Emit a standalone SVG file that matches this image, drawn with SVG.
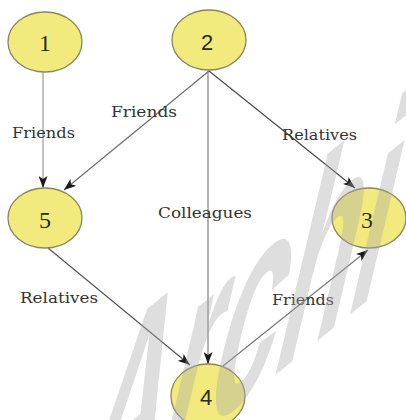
<svg xmlns="http://www.w3.org/2000/svg" width="406" height="420" viewBox="0 0 406 420">
  <defs>
    <marker id="arr" viewBox="0 0 12 9" refX="12" refY="4.5" markerWidth="12" markerHeight="9" markerUnits="userSpaceOnUse" orient="auto">
      <path d="M0,0 L12,4.5 L0,9 L3,4.5 Z" fill="#1a1a1a"/>
    </marker>
  </defs>
  <style>
    .node ellipse { fill: #f2ea7c; stroke: #8a8660; stroke-width: 1.3; }
    .num { font-size: 24px; fill: #2a2a2a; text-anchor: middle; }
    .serif { font-family: "Liberation Serif", "DejaVu Serif", serif; }
    .sans { font-family: "Liberation Sans", Arial, sans-serif; font-size: 22px; }
    .edge { stroke: #6e6e6e; stroke-width: 1.2; fill: none; marker-end: url(#arr); }
    .lbl { font-family: "DejaVu Serif", "Liberation Serif", serif; font-size: 14px; fill: #333; }
    .wm { font-family: "Liberation Sans", Arial, sans-serif; font-weight: bold; font-size: 116px; fill: #a8a8a8; fill-opacity: 0.38; }
  </style>
  <rect width="406" height="420" fill="#ffffff"/>

  <g id="connectors">
    <line class="edge" x1="43" y1="72" x2="43" y2="188" style="stroke:#9a9a9a"/>
    <line class="edge" x1="209" y1="71" x2="64" y2="190"/>
    <line class="edge" x1="209" y1="71" x2="355" y2="188" style="stroke:#4a4a4a"/>
    <line class="edge" x1="208" y1="71" x2="208" y2="364" style="stroke:#808080"/>
    <line class="edge" x1="48" y1="248" x2="190" y2="365" style="stroke:#555"/>
    <line class="edge" x1="223" y1="366" x2="368" y2="250" style="stroke:#777"/>
  </g>

  <g id="edge-labels">
    <text class="lbl" x="12" y="138" textLength="63" lengthAdjust="spacingAndGlyphs">Friends</text>
    <text class="lbl" x="111" y="117" textLength="66" lengthAdjust="spacingAndGlyphs">Friends</text>
    <text class="lbl" x="282" y="140" textLength="75" lengthAdjust="spacingAndGlyphs">Relatives</text>
    <text class="lbl" x="158" y="218" textLength="94" lengthAdjust="spacingAndGlyphs">Colleagues</text>
    <text class="lbl" x="20" y="303" textLength="78" lengthAdjust="spacingAndGlyphs">Relatives</text>
    <text class="lbl" x="272" y="305" textLength="62" lengthAdjust="spacingAndGlyphs">Friends</text>
  </g>

  <g id="node-1" class="node">
    <ellipse cx="45" cy="42" rx="37" ry="30"/>
    <text class="num serif" x="45" y="51">1</text>
  </g>
  <g id="node-2" class="node">
    <ellipse cx="209" cy="40" rx="37" ry="30"/>
    <text class="num sans" x="207" y="50">2</text>
  </g>
  <g id="node-3" class="node">
    <ellipse cx="369" cy="218" rx="37" ry="30"/>
    <text class="num serif" x="367" y="228" fill="#555">3</text>
  </g>
  <g id="node-4" class="node">
    <ellipse cx="208" cy="396" rx="37" ry="32"/>
    <text class="num sans" x="206" y="405">4</text>
  </g>
  <g id="node-5" class="node">
    <ellipse cx="45" cy="218" rx="37" ry="30"/>
    <text class="num serif" x="45" y="228">5</text>
  </g>

  <text class="wm" transform="matrix(1.05,-0.85,-0.62,2.63,64,546)">Archi</text>
</svg>
